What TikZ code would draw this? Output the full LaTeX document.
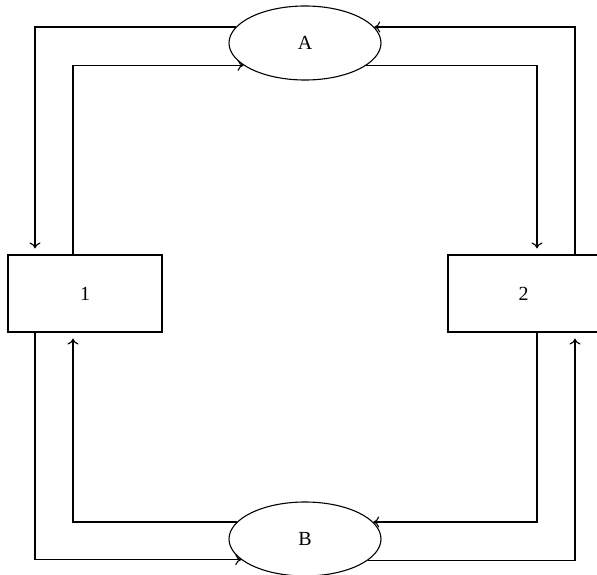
\documentclass[tikz,border=0pt]{standalone}
\usepackage{fontspec}
\setmainfont{Liberation Serif}
\usetikzlibrary{shapes.geometric,arrows.meta}
\begin{document}
\begin{tikzpicture}[x=1pt,y=-1pt,line width=1.1pt,
  lbl/.style={font=\fontsize{20}{22}\selectfont},
  oval/.style={ellipse,draw,inner sep=0pt,minimum width=152pt,minimum height=74pt,lbl},
  boxnode/.style={rectangle,draw,inner sep=0pt,minimum width=154pt,minimum height=77pt,lbl},
  arr/.style={-{To[length=6pt,width=11pt]}},
  tobox/.style={arr,shorten >=6pt}]
\useasboundingbox (0,0) rectangle (597,575);
\node[oval] (A) at (305,43) {A};
\node[oval] (B) at (305,539) {B};
\node[boxnode] (b1) at (85,293.5) {1};
\node[boxnode,minimum width=151pt] (b2) at (523.5,293.5) {2};
% top-left pair
\draw[tobox] (A.167) -| ([xshift=-50pt]b1.north);
\draw[arr] ([xshift=-12pt]b1.north) |- (A.200);
% top-right pair
\draw[arr] ([xshift=51.5pt]b2.north) |- (A.13);
\draw[tobox] (A.340) -| ([xshift=13.5pt]b2.north);
% bottom-left pair
\draw[arr] ([xshift=-50pt]b1.south) |- (B.198.5);
\draw[tobox] (B.166) -| ([xshift=-12pt]b1.south);
% bottom-right pair
\draw[arr] ([xshift=13.5pt]b2.south) |- (B.14);
\draw[tobox] (B.341.5) -| ([xshift=51.5pt]b2.south);
\end{tikzpicture}
\end{document}
